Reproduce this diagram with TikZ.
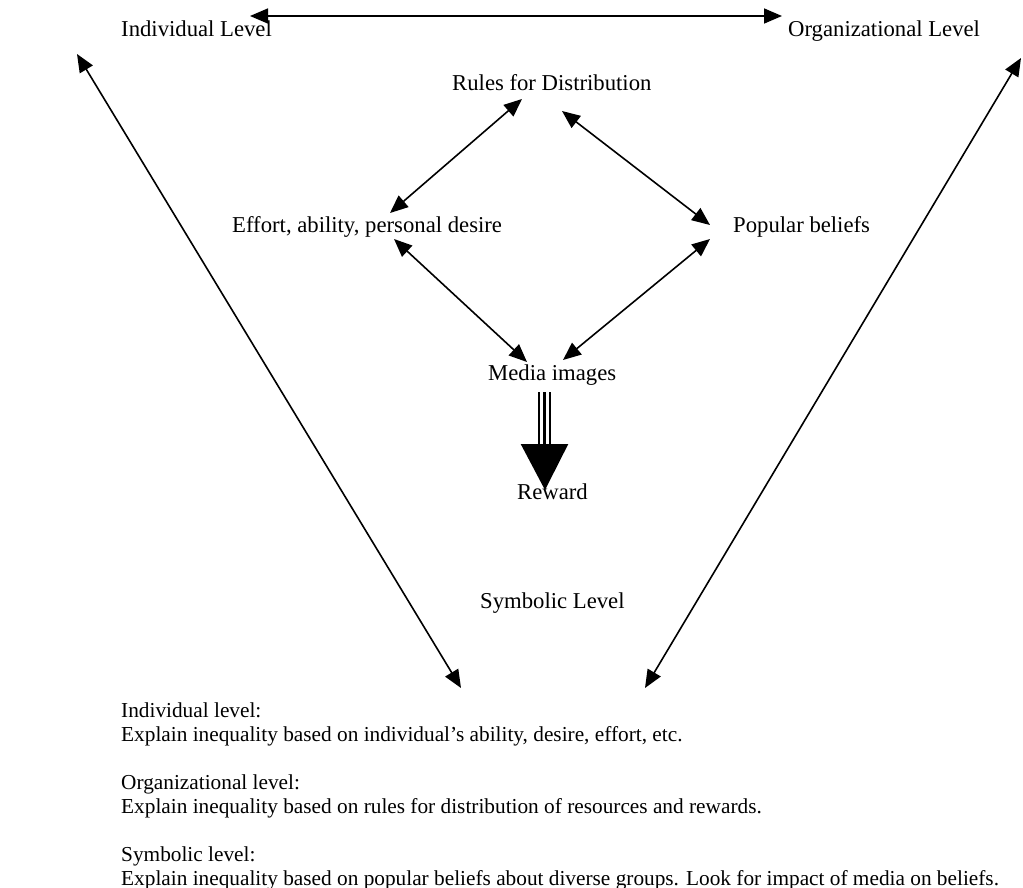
\documentclass[tikz,border=0pt]{standalone}
\usepackage{fontspec}
\setmainfont{Liberation Serif}
\usetikzlibrary{arrows.meta}
\begin{document}
\begin{tikzpicture}[x=1pt,y=-1pt,
  lbl/.style={anchor=base west,inner sep=0pt,font=\fontsize{22.7}{27.5}\selectfont},
  note/.style={anchor=base west,inner sep=0pt,font=\fontsize{21.3}{23.9}\selectfont},
  dbl/.style={line width=1.6pt,{Triangle[length=18pt,width=15pt]}-{Triangle[length=18pt,width=15pt]}}]
\useasboundingbox (0,0) rectangle (1023,888);
% labels
\node[lbl] (ind) at (121,37) {Individual Level};
\node[lbl] (org) at (788,37) {Organizational Level};
\node[lbl] (rules) at (452,91) {Rules for Distribution};
\node[lbl] (eff) at (232,232) {Effort, ability, personal desire};
\node[lbl] (pop) at (733,232) {Popular beliefs};
\node[lbl] (media) at (488,380) {Media images};
\node[lbl] (rew) at (517,499) {Reward};
\node[lbl] (sym) at (480,608) {Symbolic Level};
% explanation text
\node[note] (t1) at (121,717.7) {Individual level:};
\node[note] (t2) at (121,741.6) {Explain inequality based on individual’s ability, desire, effort, etc.};
\node[note] (t3) at (121,789.4) {Organizational level:};
\node[note] (t4) at (121,813.3) {Explain inequality based on rules for distribution of resources and rewards.};
\node[note] (t5) at (121,861.1) {Symbolic level:};
\node[note] (t6) at (121,885) {Explain inequality based on popular beliefs about diverse groups. Look for impact of media on beliefs.};
% arrow end points
\coordinate (topL) at (250,16);
\coordinate (topR) at (782,16);
\coordinate (lUp) at (77,54);
\coordinate (lDn) at (461,688);
\coordinate (rUp) at (1021,58);
\coordinate (rDn) at (645,688);
\coordinate (reA) at (522,99);
\coordinate (reB) at (390,213);
\coordinate (rpA) at (562,111);
\coordinate (rpB) at (710,225);
\coordinate (emA) at (394,239);
\coordinate (emB) at (527,362);
\coordinate (pmA) at (710,239);
\coordinate (pmB) at (563,360);
% arrows
\draw[dbl] (topL) -- (topR);
\draw[dbl] (lUp) -- (lDn);
\draw[dbl] (rUp) -- (rDn);
\draw[dbl] (reA) -- (reB);
\draw[dbl] (rpA) -- (rpB);
\draw[dbl] (emA) -- (emB);
\draw[dbl] (pmA) -- (pmB);
% reward arrow
\foreach \xx in {538.8,544.5,549.9}
  \draw[line width=2.2pt] (\xx,392) -- (\xx,445);
\fill (520.7,444) -- (568.3,444) -- (545,490) -- cycle;
\end{tikzpicture}
\end{document}
